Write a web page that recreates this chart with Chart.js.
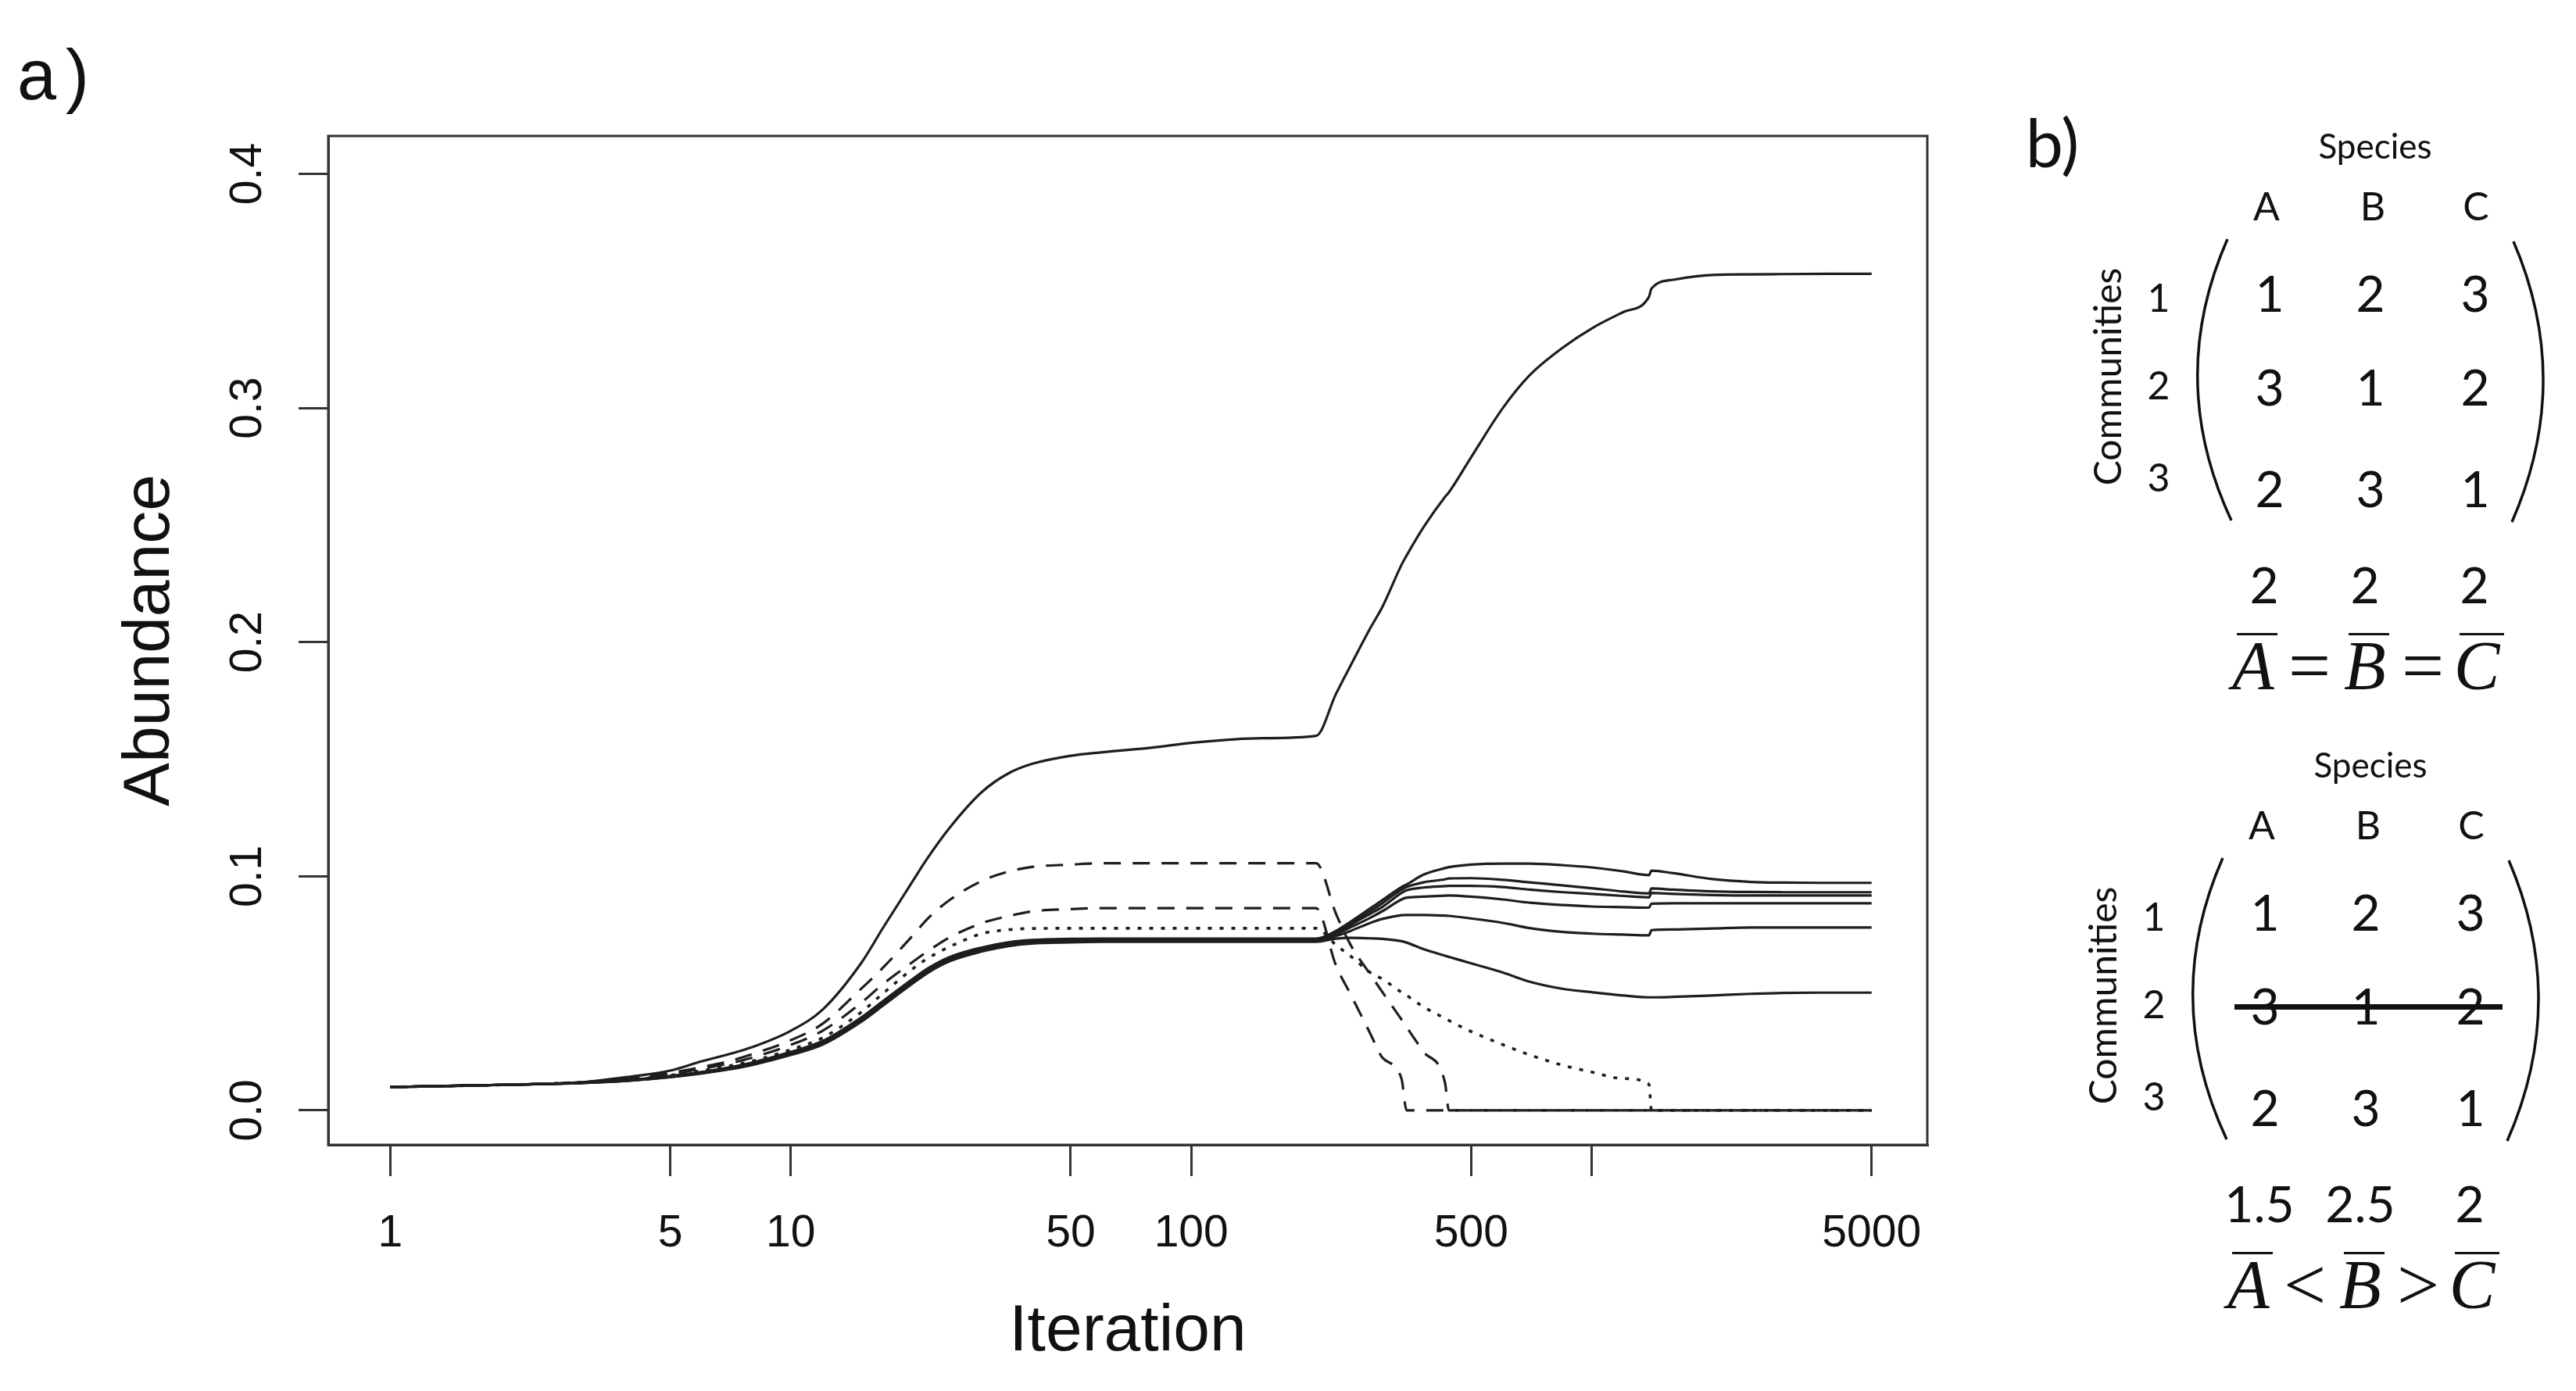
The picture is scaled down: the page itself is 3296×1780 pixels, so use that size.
<!DOCTYPE html>
<html>
<head>
<meta charset="utf-8">
<script src="https://cdn.jsdelivr.net/npm/chart.js@4.4.1/dist/chart.umd.min.js"></script>
<style>
  html, body { margin: 0; padding: 0; background: #fff; }
  #page { position: relative; width: 3296px; height: 1780px; overflow: hidden; background: #fff; }
  #chartBox { position: absolute; left: 0; top: 0; width: 2560px; height: 1780px; }
  .t { position: absolute; transform: translate(-50%, -50%); line-height: 1; white-space: nowrap; color: #111; }
  .cal { font-family: Lato, "Open Sans", sans-serif; }
  .ser { font-family: "Liberation Serif", "DejaVu Serif", serif; }
  .bar { position: absolute; background: #111; }
  #overlay { position: absolute; left: 0; top: 0; }
</style>
</head>
<body>
<div id="page">
  <div id="chartBox"><canvas id="abundanceChart" width="2560" height="1780"></canvas></div>
  <div class="t" style="left:74px;top:96px;font:90px 'Liberation Sans',Arial,sans-serif;letter-spacing:12px;">a)</div>
  <div class="t cal" style="left:2626px;top:181px;font-size:86px;">b)</div>
  <svg id="overlay" width="3296" height="1780"></svg>
</div>
<script>
// ---- panel a data ----
const iterations = [1, 2, 3, 4, 5, 6, 7, 8, 10, 12, 15, 17, 20, 22, 25, 30, 35, 40, 50, 60, 80, 100, 150, 205,
  230, 250, 280, 300, 335, 345, 380, 430, 440, 500, 600, 700, 850, 1000, 1200, 1390, 1410, 1600, 2000, 2500, 3000, 4000, 5000];

const topSpecies = [0.010, 0.011, 0.012, 0.0145, 0.017, 0.021, 0.024, 0.027, 0.034, 0.043, 0.063, 0.078, 0.097, 0.108, 0.121, 0.136, 0.144, 0.148, 0.1515, 0.153, 0.155, 0.157, 0.159, 0.160,
  0.178, 0.190, 0.206, 0.215, 0.233, 0.237, 0.249, 0.262, 0.264, 0.279, 0.300, 0.314, 0.326, 0.334, 0.341, 0.3475, 0.351, 0.3548, 0.3568, 0.3571, 0.3572, 0.3573, 0.3573];

const dashedHigh = [0.010, 0.011, 0.012, 0.0138, 0.016, 0.0185, 0.021, 0.024, 0.030, 0.037, 0.052, 0.061, 0.074, 0.082, 0.090, 0.098, 0.102, 0.104, 0.105, 0.1056, 0.1056, 0.1056, 0.1056, 0.1056,
  0.0839, 0.0707, 0.0581, 0.0506, 0.0388, 0.0356, 0.0251, 0.012, 0, 0, 0, 0, 0, 0, 0, 0, 0, 0, 0, 0, 0, 0, 0];

const dashedLow = [0.010, 0.011, 0.012, 0.0135, 0.0155, 0.0178, 0.020, 0.0225, 0.028, 0.034, 0.046, 0.054, 0.063, 0.068, 0.074, 0.080, 0.083, 0.085, 0.086, 0.0864, 0.0864, 0.0864, 0.0864, 0.0864,
  0.0618, 0.0496, 0.0328, 0.0226, 0.0136, 0, 0, 0, 0, 0, 0, 0, 0, 0, 0, 0, 0, 0, 0, 0, 0, 0, 0];

const dotted = [0.010, 0.011, 0.012, 0.0133, 0.015, 0.017, 0.019, 0.021, 0.026, 0.031, 0.042, 0.050, 0.060, 0.065, 0.070, 0.0755, 0.0772, 0.0777, 0.0778, 0.0778, 0.0778, 0.0778, 0.0778, 0.0778,
  0.0706, 0.0659, 0.0589, 0.0561, 0.0505, 0.0491, 0.0443, 0.0393, 0.0384, 0.0337, 0.0281, 0.0237, 0.0192, 0.0164, 0.0136, 0.0112, 0, 0, 0, 0, 0, 0, 0];

const solid1 = [0.010, 0.011, 0.0119, 0.0131, 0.0147, 0.0164, 0.0183, 0.0204, 0.025, 0.0296, 0.0397, 0.0467, 0.0557, 0.0607, 0.0656, 0.0696, 0.0718, 0.0728, 0.0733, 0.0734, 0.0734, 0.0734, 0.0734, 0.0734,
  0.0767, 0.0806, 0.0863, 0.0898, 0.0954, 0.0965, 0.1007, 0.1035, 0.1039, 0.105, 0.1054, 0.1054, 0.1047, 0.1038, 0.1021, 0.1005, 0.1024, 0.1013, 0.0988, 0.0976, 0.0973, 0.0972, 0.0972];

const solid2 = [0.010, 0.011, 0.0119, 0.013, 0.0146, 0.0163, 0.0182, 0.0202, 0.0248, 0.0293, 0.0394, 0.0464, 0.0554, 0.0604, 0.0653, 0.0693, 0.0715, 0.0725, 0.073, 0.0731, 0.0731, 0.0731, 0.0731, 0.0731,
  0.0762, 0.080, 0.0851, 0.0885, 0.0943, 0.0954, 0.0974, 0.0987, 0.0991, 0.0992, 0.0985, 0.0974, 0.0961, 0.0949, 0.0935, 0.0927, 0.0948, 0.0943, 0.0936, 0.0933, 0.0932, 0.0932, 0.0932];

const solid3 = [0.010, 0.011, 0.0118, 0.013, 0.0145, 0.0162, 0.018, 0.020, 0.0245, 0.029, 0.039, 0.046, 0.055, 0.060, 0.065, 0.069, 0.0712, 0.0722, 0.0727, 0.0729, 0.0729, 0.0729, 0.0729, 0.0729,
  0.0758, 0.0793, 0.084, 0.0869, 0.0929, 0.094, 0.0952, 0.0958, 0.0959, 0.0959, 0.0954, 0.0943, 0.0932, 0.0925, 0.0916, 0.091, 0.0929, 0.0925, 0.092, 0.0918, 0.0918, 0.0918, 0.0918];

const solid4 = [0.010, 0.011, 0.0118, 0.0129, 0.0144, 0.0161, 0.0179, 0.0198, 0.0242, 0.0287, 0.0386, 0.0456, 0.0546, 0.0596, 0.0646, 0.0687, 0.071, 0.072, 0.0725, 0.0727, 0.0727, 0.0727, 0.0727, 0.0727,
  0.0753, 0.0782, 0.0823, 0.0851, 0.0901, 0.0909, 0.0913, 0.0917, 0.0918, 0.0913, 0.0901, 0.0887, 0.0877, 0.0871, 0.0868, 0.0866, 0.0883, 0.0885, 0.0885, 0.0885, 0.0885, 0.0885, 0.0885];

const solid5 = [0.010, 0.011, 0.0117, 0.0128, 0.0143, 0.016, 0.0177, 0.0196, 0.024, 0.0284, 0.0383, 0.0452, 0.0542, 0.0592, 0.0642, 0.0683, 0.0706, 0.0717, 0.0722, 0.0724, 0.0724, 0.0724, 0.0724, 0.0724,
  0.0745, 0.0767, 0.0801, 0.0818, 0.0834, 0.0835, 0.0835, 0.0832, 0.0831, 0.082, 0.0801, 0.0779, 0.0762, 0.0755, 0.0751, 0.0748, 0.077, 0.0773, 0.0777, 0.0781, 0.0781, 0.0781, 0.0781];

const solid6 = [0.010, 0.011, 0.0117, 0.0128, 0.0142, 0.0158, 0.0175, 0.0194, 0.0237, 0.0281, 0.0379, 0.0448, 0.0538, 0.0588, 0.0638, 0.0679, 0.0702, 0.0713, 0.0718, 0.072, 0.072, 0.072, 0.072, 0.072,
  0.0734, 0.0737, 0.0735, 0.0733, 0.0723, 0.0717, 0.0689, 0.0661, 0.0656, 0.0628, 0.0589, 0.055, 0.0519, 0.0505, 0.0491, 0.0483, 0.0483, 0.0485, 0.0491, 0.0498, 0.0502, 0.0503, 0.0503];

const xTickValues = [1, 5, 10, 50, 100, 500, 1000, 5000];
const xTickLabels = ["1", "5", "10", "50", "100", "500", "", "5000"];
const yTickValues = [0, 0.1, 0.2, 0.3, 0.4];

// ---- panel b data ----
const speciesNames = ["A", "B", "C"];
const communityNames = ["1", "2", "3"];
const matrixValues = [[1, 2, 3], [3, 1, 2], [2, 3, 1]];
const meansAll = ["2", "2", "2"];
const meansDropped = ["1.5", "2.5", "2"];
const relationAll = ["=", "="];
const relationDropped = ["<", ">"];

// ---- chart ----
const SANS = "'Liberation Sans', Arial, Helvetica, sans-serif";
const INK = "#1e1e1e";

const lineDefs = [
  { values: solid6, dash: [] },
  { values: solid5, dash: [] },
  { values: solid4, dash: [] },
  { values: solid3, dash: [] },
  { values: solid2, dash: [] },
  { values: solid1, dash: [] },
  { values: dotted, dash: [5, 10] },
  { values: dashedLow, dash: [22, 15] },
  { values: dashedHigh, dash: [22, 15] },
  { values: topSpecies, dash: [] },
];

const datasets = lineDefs.map((d) => ({
  data: iterations.map((it, i) => ({ x: it, y: d.values[i] })),
  borderColor: INK,
  borderWidth: d.dash.length && d.dash[0] < 10 ? 3.6 : 3.2,
  borderDash: d.dash,
  pointRadius: 0,
  fill: false,
  cubicInterpolationMode: "monotone",
}));

// plot frame (R style box around the plot region)
const frameBox = {
  id: "frameBox",
  afterDraw(chart) {
    const { ctx, chartArea: a } = chart;
    ctx.save();
    ctx.strokeStyle = "#333";
    ctx.lineWidth = 3;
    ctx.strokeRect(a.left, a.top, a.right - a.left, a.bottom - a.top);
    ctx.restore();
  },
};

new Chart(document.getElementById("abundanceChart"), {
  type: "line",
  data: { datasets },
  plugins: [frameBox],
  options: {
    responsive: false,
    animation: false,
    devicePixelRatio: 1,
    layout: { padding: { top: 174, right: 94, left: 0, bottom: 0 } },
    plugins: { legend: { display: false }, tooltip: { enabled: false } },
    scales: {
      x: {
        type: "logarithmic",
        min: 0.718,
        max: 6887,
        afterBuildTicks: (s) => { s.ticks = xTickValues.map((v) => ({ value: v })); },
        afterFit: (s) => { s.height = 315; },
        ticks: {
          autoSkip: false,
          minRotation: 0,
          maxRotation: 0,
          padding: 40,
          color: "#111",
          font: { family: SANS, size: 57 },
          callback: (v) => { const i = xTickValues.indexOf(v); return i >= 0 ? xTickLabels[i] : ""; },
        },
        grid: { drawOnChartArea: false, drawTicks: true, tickLength: 40, color: "#333", lineWidth: 3 },
        border: { display: true, color: "#333", width: 3 },
        title: { display: true, text: "Iteration", color: "#111", font: { family: SANS, size: 84 }, padding: { top: 0, bottom: 25 } },
      },
      y: {
        min: -0.0147,
        max: 0.4162,
        afterBuildTicks: (s) => { s.ticks = yTickValues.map((v) => ({ value: v })); },
        afterFit: (s) => { s.width = 420; },
        ticks: {
          minRotation: 90,
          maxRotation: 90,
          crossAlign: "center",
          padding: 24,
          color: "#111",
          font: { family: SANS, size: 57 },
          callback: (v) => Number(v).toFixed(1),
        },
        grid: { drawOnChartArea: false, drawTicks: true, tickLength: 38, color: "#333", lineWidth: 3 },
        border: { display: true, color: "#333", width: 3 },
        title: { display: true, text: "Abundance", color: "#111", font: { family: SANS, size: 84 }, padding: { top: 142, bottom: 0 } },
      },
    },
  },
});

// ---- panel b (matrix diagrams) ----
const page = document.getElementById("page");
const svg = document.getElementById("overlay");

function addText(txt, x, y, size, cls, extra) {
  const el = document.createElement("div");
  el.className = "t " + cls;
  el.textContent = txt;
  el.style.left = x + "px";
  el.style.top = y + "px";
  el.style.fontSize = size + "px";
  if (extra) Object.assign(el.style, extra);
  page.appendChild(el);
}

function addBar(x1, x2, y, h) {
  const el = document.createElement("div");
  el.className = "bar";
  el.style.left = x1 + "px";
  el.style.top = (y - h / 2) + "px";
  el.style.width = (x2 - x1) + "px";
  el.style.height = h + "px";
  page.appendChild(el);
}

function addParen(p0, c, p1) {
  const path = document.createElementNS("http://www.w3.org/2000/svg", "path");
  path.setAttribute("d", `M ${p0[0]} ${p0[1]} Q ${c[0]} ${c[1]} ${p1[0]} ${p1[1]}`);
  path.setAttribute("fill", "none");
  path.setAttribute("stroke", "#111");
  path.setAttribute("stroke-width", "3.5");
  svg.appendChild(path);
}

function drawBlock(dx, dy, means, relation, struckRow) {
  const colHead = [2900, 3036, 3168];
  const colCell = [2904, 3033, 3167];
  const rowLabelY = [380, 492, 610];
  const rowCellY = [375, 495, 625];
  const colMean = [2897, 3026, 3166];

  addText("Species", 3039 + dx, 186 + dy, 44, "cal");
  speciesNames.forEach((s, j) => addText(s, colHead[j] + dx, 263 + dy, 50, "cal"));
  communityNames.forEach((c, i) => addText(c, 2762 + dx, rowLabelY[i] + dy, 50, "cal"));
  addText("Communities", 2696 + dx, 482 + dy, 48, "cal", { transform: "translate(-50%, -50%) rotate(-90deg)" });

  matrixValues.forEach((row, i) =>
    row.forEach((v, j) => addText(String(v), colCell[j] + dx, rowCellY[i] + dy, 64, "cal")));

  addParen([2850 + dx, 306 + dy], [2771 + dx, 486 + dy], [2855 + dx, 666 + dy]);
  addParen([3216 + dx, 309 + dy], [3293 + dx, 488 + dy], [3214 + dx, 668 + dy]);

  if (struckRow != null) addBar(2865 + dx, 3208 + dx, rowCellY[struckRow] + dy + 1, 7);

  means.forEach((m, j) => addText(m, colMean[j] + dx, 748 + dy, 64, "cal"));
  [[2862, 2914], [3005, 3057], [3147, 3204]].forEach(([a, b]) => addBar(a + dx, b + dx, 811 + dy, 3));

  const relX = [2883, 2955, 3026, 3100, 3169];
  const relTxt = [speciesNames[0], relation[0], speciesNames[1], relation[1], speciesNames[2]];
  relTxt.forEach((t, k) =>
    addText(t, relX[k] + dx, 852 + dy, k % 2 === 0 ? 88 : 96, "ser", k % 2 === 0 ? { fontStyle: "italic" } : null));
}

drawBlock(0, 0, meansAll, relationAll, null);
drawBlock(-6, 792, meansDropped, relationDropped, 1);
</script>
</body>
</html>
